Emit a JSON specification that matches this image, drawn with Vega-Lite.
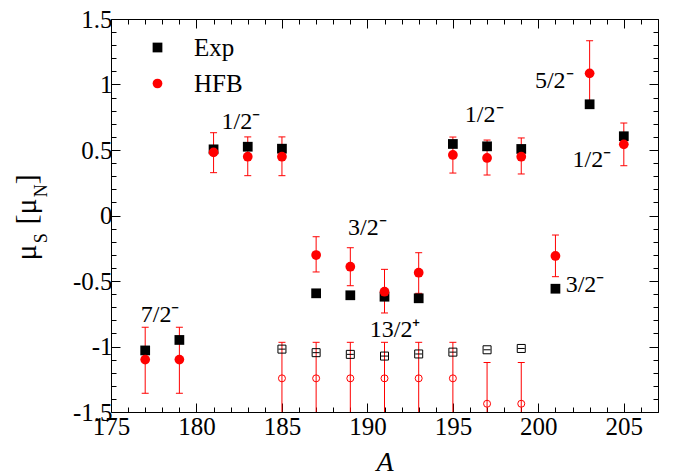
{
  "$schema": "https://vega.github.io/schema/vega-lite/v6.json",
  "width": 547,
  "height": 393,
  "autosize": {"type": "none"},
  "padding": {"left": 111, "top": 19, "right": 20, "bottom": 64},
  "background": "white",
  "config": {
    "font": "Liberation Serif",
    "view": {"stroke": "#000000", "strokeWidth": 1},
    "axis": {
      "domain": false,
      "grid": false,
      "tickColor": "#000000",
      "tickWidth": 1,
      "labelColor": "#000000",
      "labelFont": "Liberation Serif",
      "labelFontSize": 25,
      "titleFont": "Liberation Serif",
      "titleFontWeight": "normal",
      "titleColor": "#000000"
    },
    "legend": {"labelFont": "Liberation Serif"}
  },
  "datasets": {
    "points": [
      {"A": 177, "mu": -1.03, "series": "Exp", "state": "filled"},
      {"A": 179, "mu": -0.95, "series": "Exp", "state": "filled"},
      {"A": 181, "mu": 0.505, "series": "Exp", "state": "filled"},
      {"A": 183, "mu": 0.525, "series": "Exp", "state": "filled"},
      {"A": 185, "mu": 0.51, "series": "Exp", "state": "filled"},
      {"A": 187, "mu": -0.594, "series": "Exp", "state": "filled"},
      {"A": 189, "mu": -0.609, "series": "Exp", "state": "filled"},
      {"A": 191, "mu": -0.62, "series": "Exp", "state": "filled"},
      {"A": 193, "mu": -0.632, "series": "Exp", "state": "filled"},
      {"A": 195, "mu": 0.546, "series": "Exp", "state": "filled"},
      {"A": 197, "mu": 0.528, "series": "Exp", "state": "filled"},
      {"A": 199, "mu": 0.508, "series": "Exp", "state": "filled"},
      {"A": 201, "mu": -0.559, "series": "Exp", "state": "filled"},
      {"A": 203, "mu": 0.849, "series": "Exp", "state": "filled"},
      {"A": 205, "mu": 0.605, "series": "Exp", "state": "filled"},
      {"A": 185, "mu": -1.02, "series": "Exp", "state": "open"},
      {"A": 187, "mu": -1.047, "series": "Exp", "state": "open"},
      {"A": 189, "mu": -1.06, "series": "Exp", "state": "open"},
      {"A": 191, "mu": -1.073, "series": "Exp", "state": "open"},
      {"A": 193, "mu": -1.057, "series": "Exp", "state": "open"},
      {"A": 195, "mu": -1.043, "series": "Exp", "state": "open"},
      {"A": 197, "mu": -1.025, "series": "Exp", "state": "open"},
      {"A": 199, "mu": -1.015, "series": "Exp", "state": "open"},
      {"A": 177, "mu": -1.1, "lo": -1.357, "hi": -0.853, "series": "HFB", "state": "filled"},
      {"A": 179, "mu": -1.1, "lo": -1.357, "hi": -0.853, "series": "HFB", "state": "filled"},
      {"A": 181, "mu": 0.482, "lo": 0.327, "hi": 0.632, "series": "HFB", "state": "filled"},
      {"A": 183, "mu": 0.449, "lo": 0.304, "hi": 0.6, "series": "HFB", "state": "filled"},
      {"A": 185, "mu": 0.449, "lo": 0.304, "hi": 0.6, "series": "HFB", "state": "filled"},
      {"A": 187, "mu": -0.302, "lo": -0.431, "hi": -0.162, "series": "HFB", "state": "filled"},
      {"A": 189, "mu": -0.391, "lo": -0.536, "hi": -0.246, "series": "HFB", "state": "filled"},
      {"A": 191, "mu": -0.582, "lo": -0.744, "hi": -0.411, "series": "HFB", "state": "filled"},
      {"A": 193, "mu": -0.437, "lo": -0.594, "hi": -0.284, "series": "HFB", "state": "filled"},
      {"A": 195, "mu": 0.462, "lo": 0.324, "hi": 0.599, "series": "HFB", "state": "filled"},
      {"A": 197, "mu": 0.439, "lo": 0.309, "hi": 0.576, "series": "HFB", "state": "filled"},
      {"A": 199, "mu": 0.449, "lo": 0.317, "hi": 0.592, "series": "HFB", "state": "filled"},
      {"A": 201, "mu": -0.309, "lo": -0.467, "hi": -0.149, "series": "HFB", "state": "filled"},
      {"A": 203, "mu": 1.085, "lo": 0.836, "hi": 1.334, "series": "HFB", "state": "filled"},
      {"A": 205, "mu": 0.543, "lo": 0.38, "hi": 0.706, "series": "HFB", "state": "filled"},
      {"A": 185, "mu": -1.243, "lo": -1.6, "hi": -0.968, "series": "HFB", "state": "open"},
      {"A": 187, "mu": -1.243, "lo": -1.6, "hi": -0.968, "series": "HFB", "state": "open"},
      {"A": 189, "mu": -1.243, "lo": -1.6, "hi": -0.968, "series": "HFB", "state": "open"},
      {"A": 191, "mu": -1.243, "lo": -1.6, "hi": -0.968, "series": "HFB", "state": "open"},
      {"A": 193, "mu": -1.243, "lo": -1.6, "hi": -0.968, "series": "HFB", "state": "open"},
      {"A": 195, "mu": -1.243, "lo": -1.6, "hi": -0.968, "series": "HFB", "state": "open"},
      {"A": 197, "mu": -1.437, "lo": -1.6, "hi": -1.122, "series": "HFB", "state": "open"},
      {"A": 199, "mu": -1.437, "lo": -1.6, "hi": -1.122, "series": "HFB", "state": "open"}
    ],
    "labels": [
      {"A": 176.74, "mu": -0.811, "text": "7/2⁻"},
      {"A": 181.47, "mu": 0.658, "text": "1/2⁻"},
      {"A": 188.87, "mu": -0.15, "text": "3/2⁻"},
      {"A": 190.14, "mu": -0.927, "text": "13/2⁺"},
      {"A": 195.7, "mu": 0.716, "text": "1/2⁻"},
      {"A": 199.8, "mu": 0.971, "text": "5/2⁻"},
      {"A": 202.0, "mu": 0.373, "text": "1/2⁻"},
      {"A": 201.6, "mu": -0.582, "text": "3/2⁻"}
    ]
  },
  "resolve": {"axis": {"x": "independent", "y": "independent"}},
  "layer": [
    {
      "data": {"name": "points"},
      "transform": [{"filter": "datum.series === 'HFB'"}],
      "mark": {"type": "rule", "color": "#ff0000", "strokeWidth": 1, "clip": true},
      "encoding": {
        "x": {"field": "A", "type": "quantitative",
          "scale": {"domain": [175, 207], "nice": false, "zero": false},
          "axis": {
            "orient": "bottom",
            "values": [175,176,177,178,179,180,181,182,183,184,185,186,187,188,189,190,191,192,193,194,195,196,197,198,199,200,201,202,203,204,205,206,207],
            "tickSize": {"condition": {"test": "datum.value % 5 === 0", "value": -9}, "value": -5},
            "labelExpr": "datum.value % 5 === 0 ? '' + datum.value : ''",
            "labelFont": "Liberation Serif",
            "labelFontSize": 25,
            "labelColor": "#000000",
            "labelOverlap": false,
            "labelFlush": false,
            "labelBound": false,
            "labelPadding": 11,
            "title": "A",
            "titleFont": "Liberation Serif",
            "titleFontStyle": "italic",
            "titleFontWeight": "normal",
            "titleFontSize": 28,
            "titleAlign": "center",
            "titleBaseline": "alphabetic",
            "titleX": 273.5,
            "titleY": 58
          }
        },
        "y": {"field": "lo", "type": "quantitative",
          "scale": {"domain": [-1.5, 1.5], "nice": false, "zero": false},
          "axis": {
            "orient": "left",
            "values": [-1.5,-1.4,-1.3,-1.2,-1.1,-1,-0.9,-0.8,-0.7,-0.6,-0.5,-0.4,-0.3,-0.2,-0.1,0,0.1,0.2,0.3,0.4,0.5,0.6,0.7,0.8,0.9,1,1.1,1.2,1.3,1.4,1.5],
            "tickSize": {"condition": {"test": "abs(round(datum.value * 10)) % 5 === 0", "value": -9}, "value": -5},
            "labelExpr": "abs(round(datum.value * 10)) % 5 === 0 ? '' + datum.value : ''",
            "labelFont": "Liberation Serif",
            "labelFontSize": 25,
            "labelColor": "#000000",
            "labelOverlap": false,
            "labelFlush": false,
            "labelBound": false,
            "labelPadding": 8,
            "title": "μ",
            "titleFont": "Liberation Serif",
            "titleFontWeight": "normal",
            "titleFontSize": 30,
            "titleAngle": 270,
            "titleAlign": "left",
            "titleBaseline": "alphabetic",
            "titleX": -76,
            "titleY": 241
          }
        },
        "y2": {"field": "hi"}
      }
    },
    {
      "data": {"name": "points"},
      "transform": [{"filter": "datum.series === 'HFB'"}],
      "mark": {"type": "tick", "orient": "horizontal", "color": "#ff0000", "size": 7, "thickness": 1, "opacity": 1, "clip": true},
      "encoding": {
        "x": {"field": "A", "type": "quantitative",
          "scale": {"domain": [175, 207], "nice": false, "zero": false},
          "axis": {
            "orient": "top",
            "values": [175,176,177,178,179,180,181,182,183,184,185,186,187,188,189,190,191,192,193,194,195,196,197,198,199,200,201,202,203,204,205,206,207],
            "tickSize": {"condition": {"test": "datum.value % 5 === 0", "value": -9}, "value": -5},
            "labels": false,
            "title": null
          }
        },
        "y": {"field": "hi", "type": "quantitative",
          "scale": {"domain": [-1.5, 1.5], "nice": false, "zero": false},
          "axis": {
            "orient": "right",
            "values": [-1.5,-1.4,-1.3,-1.2,-1.1,-1,-0.9,-0.8,-0.7,-0.6,-0.5,-0.4,-0.3,-0.2,-0.1,0,0.1,0.2,0.3,0.4,0.5,0.6,0.7,0.8,0.9,1,1.1,1.2,1.3,1.4,1.5],
            "tickSize": {"condition": {"test": "abs(round(datum.value * 10)) % 5 === 0", "value": -9}, "value": -5},
            "labels": false,
            "title": null
          }
        }
      }
    },
    {
      "data": {"name": "points"},
      "transform": [{"filter": "datum.series === 'HFB'"}],
      "mark": {"type": "tick", "orient": "horizontal", "color": "#ff0000", "size": 7, "thickness": 1, "opacity": 1, "clip": true},
      "encoding": {
        "x": {"field": "A", "type": "quantitative", "scale": {"domain": [175, 207], "nice": false, "zero": false}, "axis": null},
        "y": {"field": "lo", "type": "quantitative",
          "scale": {"domain": [-1.5, 1.5], "nice": false, "zero": false},
          "axis": {
            "orient": "left", "domain": false, "ticks": false, "labels": false,
            "title": "S",
            "titleFont": "Liberation Serif",
            "titleFontWeight": "normal",
            "titleFontSize": 18,
            "titleAngle": 270,
            "titleAlign": "left",
            "titleBaseline": "alphabetic",
            "titleX": -65,
            "titleY": 223.7
          }
        }
      }
    },
    {
      "data": {"name": "points"},
      "transform": [{"filter": "datum.series === 'Exp' && datum.state === 'open'"}],
      "mark": {"type": "point", "shape": "square", "filled": false, "stroke": "#000000", "strokeWidth": 1, "size": 64, "opacity": 1},
      "encoding": {
        "x": {"field": "A", "type": "quantitative", "scale": {"domain": [175, 207], "nice": false, "zero": false}, "axis": null},
        "y": {"field": "mu", "type": "quantitative",
          "scale": {"domain": [-1.5, 1.5], "nice": false, "zero": false},
          "axis": {
            "orient": "left", "domain": false, "ticks": false, "labels": false,
            "title": "[μ",
            "titleFont": "Liberation Serif",
            "titleFontWeight": "normal",
            "titleFontSize": 30,
            "titleAngle": 270,
            "titleAlign": "left",
            "titleBaseline": "alphabetic",
            "titleX": -76,
            "titleY": 205
          }
        }
      }
    },
    {
      "data": {"name": "points"},
      "transform": [{"filter": "datum.series === 'Exp' && datum.state === 'open'"}],
      "mark": {"type": "tick", "orient": "horizontal", "color": "#000000", "size": 7, "thickness": 1, "opacity": 1},
      "encoding": {
        "x": {"field": "A", "type": "quantitative", "scale": {"domain": [175, 207], "nice": false, "zero": false}, "axis": null},
        "y": {"field": "mu", "type": "quantitative",
          "scale": {"domain": [-1.5, 1.5], "nice": false, "zero": false},
          "axis": {
            "orient": "left", "domain": false, "ticks": false, "labels": false,
            "title": "N",
            "titleFont": "Liberation Serif",
            "titleFontWeight": "normal",
            "titleFontSize": 18,
            "titleAngle": 270,
            "titleAlign": "left",
            "titleBaseline": "alphabetic",
            "titleX": -65,
            "titleY": 177.7
          }
        }
      }
    },
    {
      "data": {"name": "points"},
      "transform": [{"filter": "datum.series === 'HFB' && datum.state === 'open'"}],
      "mark": {"type": "point", "shape": "circle", "filled": false, "stroke": "#ff0000", "strokeWidth": 1, "size": 49, "opacity": 1},
      "encoding": {
        "x": {"field": "A", "type": "quantitative", "scale": {"domain": [175, 207], "nice": false, "zero": false}, "axis": null},
        "y": {"field": "mu", "type": "quantitative",
          "scale": {"domain": [-1.5, 1.5], "nice": false, "zero": false},
          "axis": {
            "orient": "left", "domain": false, "ticks": false, "labels": false,
            "title": "]",
            "titleFont": "Liberation Serif",
            "titleFontWeight": "normal",
            "titleFontSize": 30,
            "titleAngle": 270,
            "titleAlign": "left",
            "titleBaseline": "alphabetic",
            "titleX": -76,
            "titleY": 164.7
          }
        }
      }
    },
    {
      "data": {"name": "points"},
      "transform": [{"filter": "datum.state === 'filled'"}],
      "mark": {"type": "point", "filled": true, "size": 95, "opacity": 1, "strokeWidth": 0},
      "encoding": {
        "x": {"field": "A", "type": "quantitative", "scale": {"domain": [175, 207], "nice": false, "zero": false}, "axis": null},
        "y": {"field": "mu", "type": "quantitative", "scale": {"domain": [-1.5, 1.5], "nice": false, "zero": false}, "axis": null},
        "color": {"field": "series", "type": "nominal",
          "scale": {"domain": ["Exp", "HFB"], "range": ["#000000", "#ff0000"]},
          "legend": {
            "orient": "none", "legendX": 34, "legendY": 16, "title": null,
            "labelFont": "Liberation Serif", "labelFontSize": 25, "labelOffset": 24,
            "symbolSize": 95, "symbolStrokeWidth": 0, "rowPadding": 10, "padding": 0,
            "encode": {"labels": {"update": {"fill": {"signal": "datum.value === 'HFB' ? '#ff0000' : '#000000'"}}}}
          }
        },
        "shape": {"field": "series", "type": "nominal",
          "scale": {"domain": ["Exp", "HFB"], "range": ["square", "circle"]},
          "legend": {
            "orient": "none", "legendX": 34, "legendY": 16, "title": null,
            "labelFont": "Liberation Serif", "labelFontSize": 25, "labelOffset": 24,
            "symbolSize": 95, "symbolStrokeWidth": 0, "rowPadding": 10, "padding": 0,
            "encode": {"labels": {"update": {"fill": {"signal": "datum.value === 'HFB' ? '#ff0000' : '#000000'"}}}}
          }
        }
      }
    },
    {
      "data": {"name": "labels"},
      "mark": {"type": "text", "font": "Liberation Serif", "fontSize": 24, "align": "left", "baseline": "alphabetic", "color": "#000000"},
      "encoding": {
        "x": {"field": "A", "type": "quantitative", "scale": {"domain": [175, 207], "nice": false, "zero": false}, "axis": null},
        "y": {"field": "mu", "type": "quantitative", "scale": {"domain": [-1.5, 1.5], "nice": false, "zero": false}, "axis": null},
        "text": {"field": "text", "type": "nominal"}
      }
    }
  ]
}
